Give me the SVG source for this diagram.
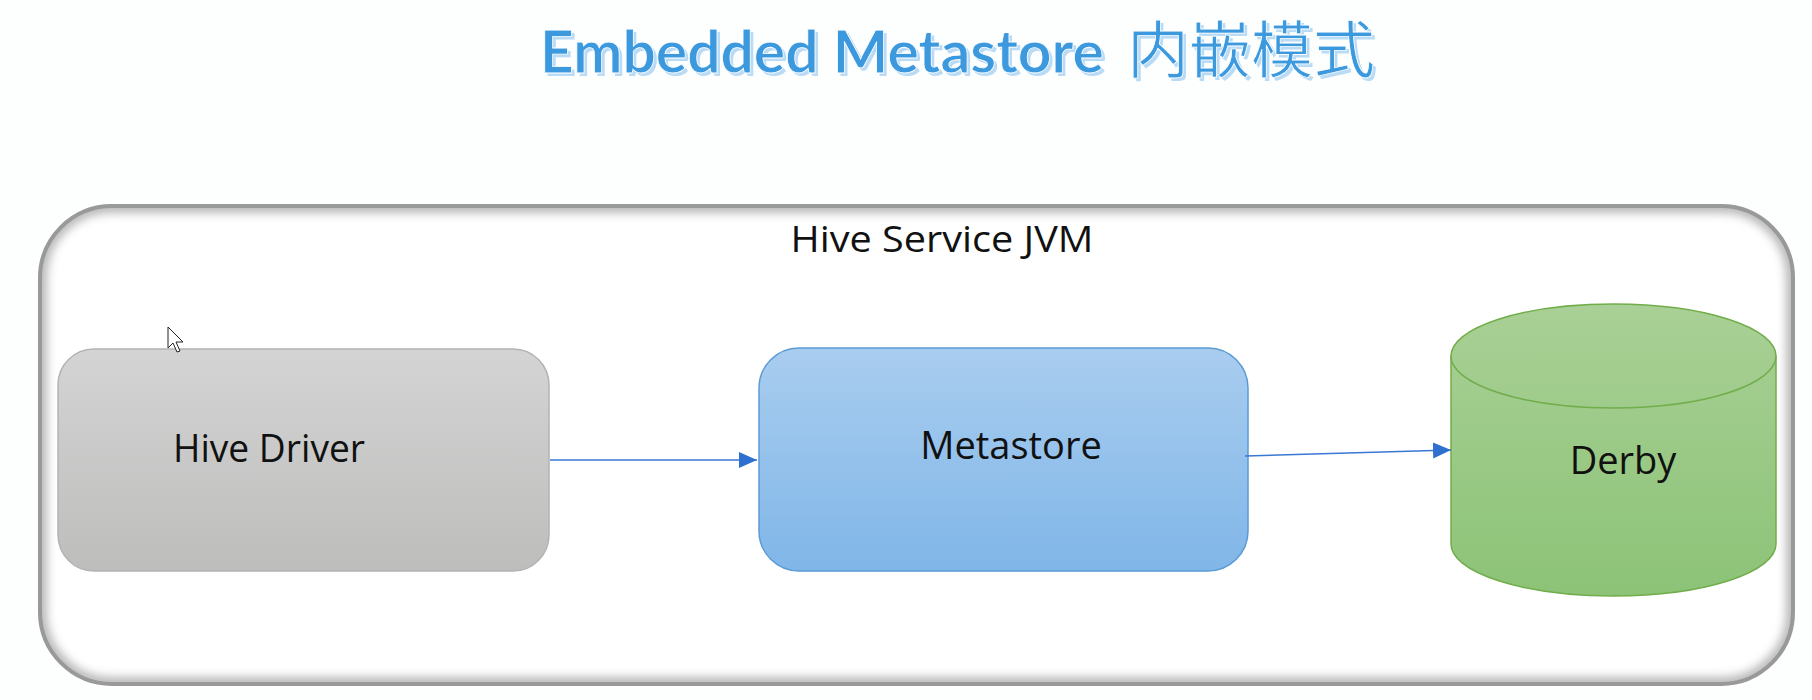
<svg xmlns="http://www.w3.org/2000/svg" width="1812" height="700" viewBox="0 0 1812 700">
  <defs>
    <style>
      .lbl { font-family: "Open Sans", "Liberation Sans", sans-serif; fill: #111; }
      .conn { stroke: #3a78d3; stroke-width: 1.6; fill: none; marker-end: url(#arr); }
    </style>
    <marker id="arr" viewBox="0 0 10 10" refX="10" refY="5" markerWidth="18" markerHeight="16" markerUnits="userSpaceOnUse" orient="auto" preserveAspectRatio="none">
      <path d="M0,0 L10,5 L0,10 z" fill="#2f6fd0"/>
    </marker>
    <linearGradient id="gGray" x1="0" y1="0" x2="0" y2="1">
      <stop offset="0" stop-color="#d3d4d3"/>
      <stop offset="1" stop-color="#bdbebc"/>
    </linearGradient>
    <linearGradient id="gBlue" x1="0" y1="0" x2="0" y2="1">
      <stop offset="0" stop-color="#a9cdef"/>
      <stop offset="1" stop-color="#80b6e8"/>
    </linearGradient>
    <linearGradient id="gGreen" x1="0" y1="0" x2="0" y2="1">
      <stop offset="0" stop-color="#a9d096"/>
      <stop offset="1" stop-color="#8cc377"/>
    </linearGradient>
    <filter id="blur" x="-5%" y="-5%" width="110%" height="110%">
      <feGaussianBlur stdDeviation="5"/>
    </filter>
    <clipPath id="outerClip">
      <rect x="40" y="206" width="1753" height="478" rx="72" ry="72"/>
    </clipPath>
  </defs>

  <rect width="1812" height="700" fill="#fdfefe"/>

  <g id="title">
    <text x="543" y="76" font-family="Lato, 'Open Sans', 'Noto Sans CJK SC', sans-serif" font-weight="bold" font-size="60" fill="#b9dbf5"><tspan textLength="564" lengthAdjust="spacingAndGlyphs">Embedded Metastore</tspan><tspan x="1130" font-family="'Noto Sans CJK SC', sans-serif" font-weight="normal" font-size="62">内嵌模式</tspan></text>
    <text x="540" y="73" font-family="Lato, 'Open Sans', 'Noto Sans CJK SC', sans-serif" font-weight="bold" font-size="60" fill="#3d99de" stroke="#ffffff" stroke-width="0.8"><tspan textLength="564" lengthAdjust="spacingAndGlyphs">Embedded Metastore</tspan><tspan x="1127" font-family="'Noto Sans CJK SC', sans-serif" font-weight="normal" font-size="62">内嵌模式</tspan></text>
  </g>

  <g id="hive-service-jvm">
    <rect x="40" y="206" width="1753" height="478" rx="72" ry="72" fill="#ffffff"/>
    <g clip-path="url(#outerClip)">
      <rect x="40" y="206" width="1753" height="478" rx="72" ry="72" fill="none" stroke="#b8b8b8" stroke-width="14" filter="url(#blur)"/>
    </g>
    <rect x="40" y="206" width="1753" height="478" rx="72" ry="72" fill="none" stroke="#999999" stroke-width="4"/>
    <text class="lbl" x="942" y="252" font-size="36" text-anchor="middle" textLength="303" lengthAdjust="spacingAndGlyphs">Hive Service JVM</text>
  </g>

  <g id="hive-driver">
    <rect x="58" y="349" width="491" height="222" rx="36" ry="36" fill="url(#gGray)" stroke="#b3b3b3" stroke-width="1.5"/>
    <text class="lbl" x="173" y="462" font-size="38" textLength="192" lengthAdjust="spacingAndGlyphs">Hive Driver</text>
  </g>

  <g id="metastore">
    <rect x="759" y="348" width="489" height="223" rx="40" ry="40" fill="url(#gBlue)" stroke="#5b9bd5" stroke-width="1.5"/>
    <text class="lbl" x="1011" y="459" font-size="38" text-anchor="middle">Metastore</text>
  </g>

  <g id="derby">
    <path d="M1451,356 A162.5,52 0 0 1 1776,356 L1776,544 A162.5,52 0 0 1 1451,544 Z" fill="url(#gGreen)" stroke="#71ad4a" stroke-width="1.5"/>
    <path d="M1451,356 A162.5,52 0 0 0 1776,356" fill="none" stroke="#71ad4a" stroke-width="1.5"/>
    <text class="lbl" x="1623" y="474" font-size="38" text-anchor="middle">Derby</text>
  </g>

  <g id="connectors">
    <line class="conn" x1="550" y1="460" x2="757" y2="460"/>
    <line class="conn" x1="1245" y1="456" x2="1451" y2="450"/>
  </g>

  <g id="cursor">
    <path d="M168,327 L168,348 L173,343 L177,352 L180,351 L176,342 L183,342 Z" fill="#ffffff" stroke="#222" stroke-width="1"/>
  </g>
</svg>
